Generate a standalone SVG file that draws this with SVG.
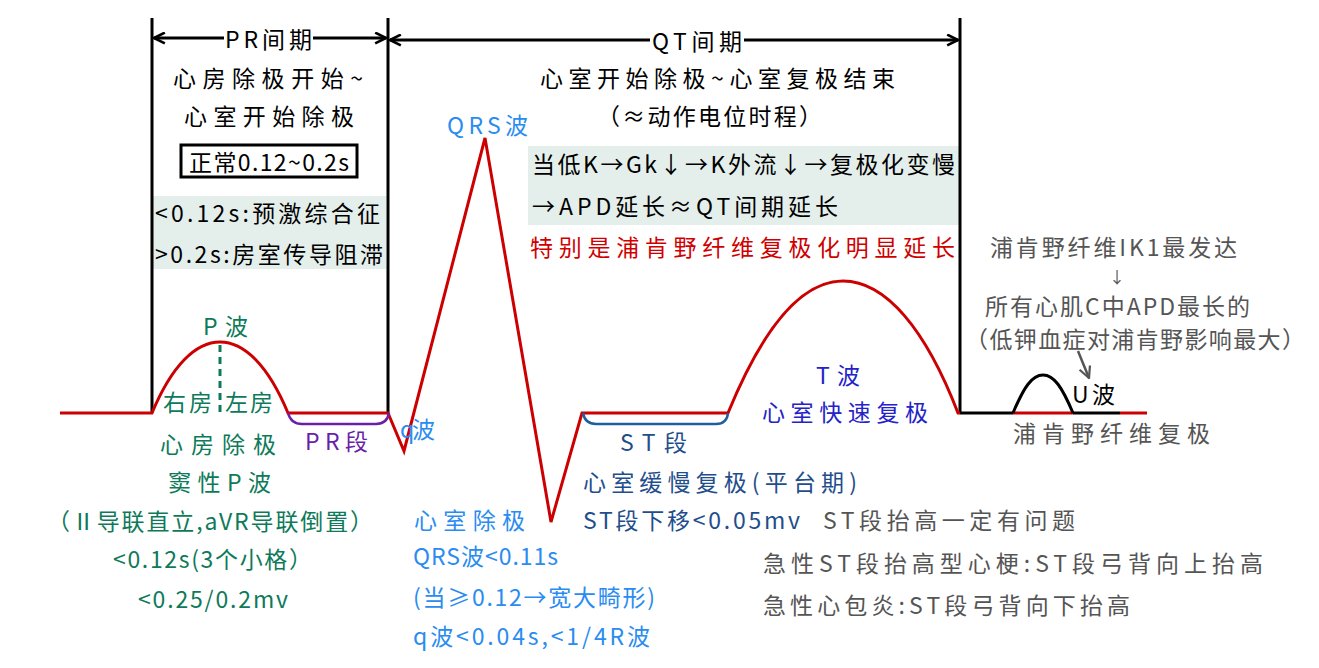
<svg xmlns="http://www.w3.org/2000/svg" width="1319" height="668" viewBox="0 0 1319 668">
<style>
text{font-family:"Noto Sans CJK SC","Liberation Sans",sans-serif;font-size:23px;dominant-baseline:central;}
.k{fill:#000}.g{fill:#0e7a5a}.b{fill:#2a8cf0}.db{fill:#1f4e8c}.tb{fill:#2323c8}.pu{fill:#6a1fa8}.gr{fill:#555}.r{fill:#d00000}
.wave{fill:none;stroke:#cc0000;stroke-width:3;stroke-linejoin:miter}
.blk{fill:none;stroke:#000;stroke-width:3}
</style>
<defs>
<marker id="ag" viewBox="0 0 10 10" refX="9" refY="5" markerWidth="14" markerHeight="14" orient="auto" markerUnits="userSpaceOnUse">
<path d="M1,1 L9,5 L1,9" fill="none" stroke="#555" stroke-width="1.6"/>
</marker>
<marker id="a" viewBox="0 0 12 12" refX="11" refY="6" markerWidth="13" markerHeight="13" orient="auto-start-reverse" markerUnits="userSpaceOnUse">
<path d="M1,1 L11,6 L1,11" fill="none" stroke="#000" stroke-width="2.4"/>
</marker>
</defs>
<rect width="1319" height="668" fill="#fff"/>

<g id="backgrounds">
<rect x="153" y="196" width="233" height="73" fill="#e4efec"/>
<rect x="528" y="146" width="432" height="79" fill="#e4efec"/>
</g>

<g id="connectors">
<line x1="152" y1="18" x2="152" y2="413" class="blk" stroke-width="3.5"/>
<line x1="388" y1="18" x2="388" y2="413" class="blk" stroke-width="3.5"/>
<line x1="960" y1="18" x2="960" y2="413" class="blk" stroke-width="3.5"/>
<line x1="154" y1="38" x2="224" y2="38" class="blk" marker-start="url(#a)"/>
<line x1="313" y1="38" x2="386" y2="38" class="blk" marker-end="url(#a)"/>
<line x1="390" y1="40" x2="650" y2="40" class="blk" marker-start="url(#a)"/>
<line x1="744" y1="40" x2="958" y2="40" class="blk" marker-end="url(#a)"/>
<path class="wave" d="M60,413 L152,413 C172,365 196,342 220,342 C244,342 268,365 288,413 L388,413 L404,451 L485,138 L551,522 L582,413 L728,413 C762,330 800,281 843,281 C886,281 926,330 958,413 L960,413"/>
<line x1="960" y1="413" x2="1013" y2="413" class="blk"/>
<line x1="1013" y1="413" x2="1073" y2="413" class="wave"/>
<line x1="1073" y1="413" x2="1120" y2="413" class="blk"/>
<line x1="1120" y1="413" x2="1147" y2="413" class="wave"/>
<path d="M1013,413 C1024,387 1032,375 1043,375 C1054,375 1062,387 1073,413" class="blk"/>
<line x1="220" y1="345" x2="220" y2="413" stroke="#0e7a5a" stroke-width="3" stroke-dasharray="7,5"/>
<path d="M288,413 Q291,424 302,424 L376,424 Q387,424 389,413" fill="none" stroke="#6a1fa8" stroke-width="2.5"/>
<path d="M583,413 Q585,424 596,424 L716,424 Q727,424 728,413" fill="none" stroke="#1f5fa0" stroke-width="2.5"/>
<line x1="1078" y1="351" x2="1089" y2="378" stroke="#555" stroke-width="2.5" marker-end="url(#ag)"/>
</g>

<g id="pr-interval">
<text class="k" x="225" y="38" textLength="87">PR间期</text>
<text class="k" x="173" y="77" textLength="190">心房除极开始~</text>
<text class="k" x="184" y="115" textLength="170">心室开始除极</text>
<rect x="181" y="145" width="176" height="32" fill="none" stroke="#000" stroke-width="3"/>
<text class="k" x="189" y="161" textLength="160">正常0.12~0.2s</text>
<text class="k" x="155" y="212" textLength="225">&lt;0.12s:预激综合征</text>
<text class="k" x="155" y="253" textLength="228">&gt;0.2s:房室传导阻滞</text>
</g>

<g id="qt-interval">
<text class="k" x="652" y="40" textLength="90">QT间期</text>
<text class="k" x="540" y="77" textLength="355">心室开始除极~心室复极结束</text>
<text class="k" x="597" y="115" textLength="225">（≈动作电位时程）</text>
<text class="k" x="532" y="163" textLength="423">当低K→Gk↓→K外流↓→复极化变慢</text>
<text class="k" x="532" y="205" textLength="306">→APD延长≈QT间期延长</text>
<text class="r" x="530" y="246" textLength="425">特别是浦肯野纤维复极化明显延长</text>
</g>

<g id="p-wave">
<text class="g" x="203" y="325" textLength="45">P波</text>
<text class="g" x="163" y="401" textLength="49">右房</text>
<text class="g" x="225" y="401" textLength="48">左房</text>
<text class="g" x="160" y="443" textLength="116">心房除极</text>
<text class="g" x="168" y="481" textLength="103">窦性P波</text>
<text class="g" x="47" y="520" textLength="326">（Ⅱ导联直立,aVR导联倒置）</text>
<text class="g" x="113" y="558" textLength="199">&lt;0.12s(3个小格）</text>
<text class="g" x="138" y="598" textLength="150">&lt;0.25/0.2mv</text>
</g>

<g id="pr-segment">
<text class="pu" x="305" y="440" textLength="63">PR段</text>
</g>

<g id="qrs">
<text class="b" x="447" y="124" textLength="81">QRS波</text>
<text class="b" x="400" y="428" textLength="35">q波</text>
<text class="b" x="414" y="519" textLength="111">心室除极</text>
<text class="b" x="413" y="555" textLength="145">QRS波&lt;0.11s</text>
<text class="b" x="413" y="596" textLength="242">(当≥0.12→宽大畸形)</text>
<text class="b" x="413" y="635" textLength="237">q波&lt;0.04s,&lt;1/4R波</text>
</g>

<g id="st-segment">
<text class="db" x="620" y="441" textLength="67">ST段</text>
<text class="db" x="583" y="481" textLength="274">心室缓慢复极(平台期)</text>
<text class="db" x="583" y="519" textLength="217">ST段下移&lt;0.05mv</text>
<text class="gr" x="823" y="519" textLength="252">ST段抬高一定有问题</text>
<text class="gr" x="763" y="562" textLength="500">急性ST段抬高型心梗:ST段弓背向上抬高</text>
<text class="gr" x="763" y="604" textLength="367">急性心包炎:ST段弓背向下抬高</text>
</g>

<g id="t-wave">
<text class="tb" x="816" y="374" textLength="44">T波</text>
<text class="tb" x="762" y="411" textLength="166">心室快速复极</text>
</g>

<g id="u-wave">
<text class="gr" x="990" y="246" textLength="247">浦肯野纤维IK1最发达</text>
<text class="gr" x="1109" y="276" style="font-size:16px">↓</text>
<text class="gr" x="985" y="305" textLength="265">所有心肌C中APD最长的</text>
<text class="gr" x="965" y="338" textLength="340">（低钾血症对浦肯野影响最大）</text>
<text class="k" x="1072" y="393" textLength="43">U波</text>
<text class="gr" x="1013" y="432" textLength="197">浦肯野纤维复极</text>
</g>
</svg>
